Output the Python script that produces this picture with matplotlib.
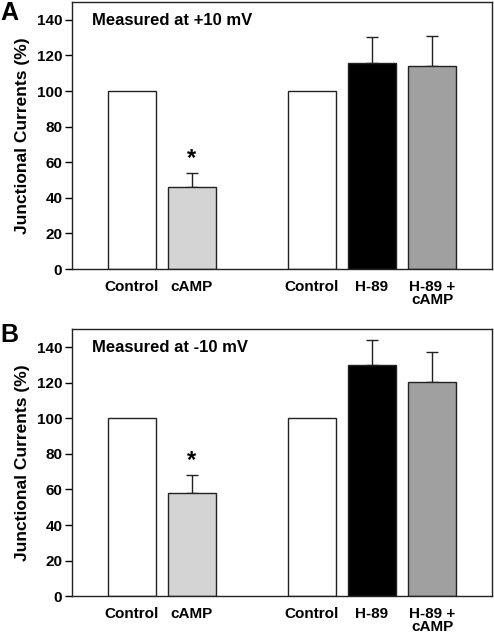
import numpy as np
import matplotlib.pyplot as plt

plt.rcParams['font.family'] = ['Liberation Sans', 'DejaVu Sans']
plt.rcParams['font.weight'] = 'bold'

# data
groups = ['Control', 'cAMP', 'Control', 'H-89', 'H-89 +\ncAMP']
positions = [1, 2, 4, 5, 6]
bar_colors = ['white', '#d4d4d4', 'white', 'black', '#a0a0a0']

vals_a = [100, 45.8, 100, 115.8, 113.9]
err_a = [0, 8.0, 0, 14.7, 17.2]
vals_b = [100, 58.2, 100, 129.9, 120.4]
err_b = [0, 10.0, 0, 14.3, 16.7]
stars_a = [None, 62, None, None, None]
stars_b = [None, 76, None, None, None]

panels = [
    ('A', 0.980, 'Measured at +10 mV', vals_a, err_a, stars_a, [0.1457, 0.5757, 0.8503, 0.4211]),
    ('B', 0.471, 'Measured at -10 mV', vals_b, err_b, stars_b, [0.1457, 0.0595, 0.8503, 0.4211]),
]

fig = plt.figure(figsize=(4.94, 6.34), dpi=100)

for letter, ly, title, vals, errs, stars, rect in panels:
    ax = fig.add_axes(rect)
    ax.bar(positions, vals, width=0.81, color=bar_colors, edgecolor='#222222',
           linewidth=1.0, zorder=2)
    for x, v, e in zip(positions, vals, errs):
        if e > 0:
            ax.errorbar(x, v, yerr=[[0], [e]], fmt='none', ecolor='#222222',
                        elinewidth=1.0, capsize=4, capthick=1.0, zorder=1)
    for x, s in zip(positions, stars):
        if s is not None:
            ax.text(x, s, '*', ha='center', va='center', fontsize=17, fontweight='bold')
    ax.set_xlim(0, 7)
    ax.set_ylim(0, 150)
    ax.set_yticks(range(0, 141, 20))
    ax.set_xticks(positions)
    ax.set_xticklabels(groups, fontsize=11, fontweight='bold', linespacing=0.9)
    ax.tick_params(axis='x', length=0, pad=8)
    ax.tick_params(axis='y', length=5, width=1, labelsize=11, pad=2)
    for sp in ax.spines.values():
        sp.set_linewidth(1.0)
        sp.set_color('#222222')
    ax.set_ylabel('Junctional Currents (%)', fontsize=12.5, fontweight='bold', labelpad=5)
    ax.text(0.048, 0.93, title, transform=ax.transAxes, fontsize=12,
            fontweight='bold', va='center', ha='left')
    fig.text(0.0, ly, letter, fontsize=18, fontweight='bold', ha='left', va='center')

fig.savefig('out.png', dpi=100)
